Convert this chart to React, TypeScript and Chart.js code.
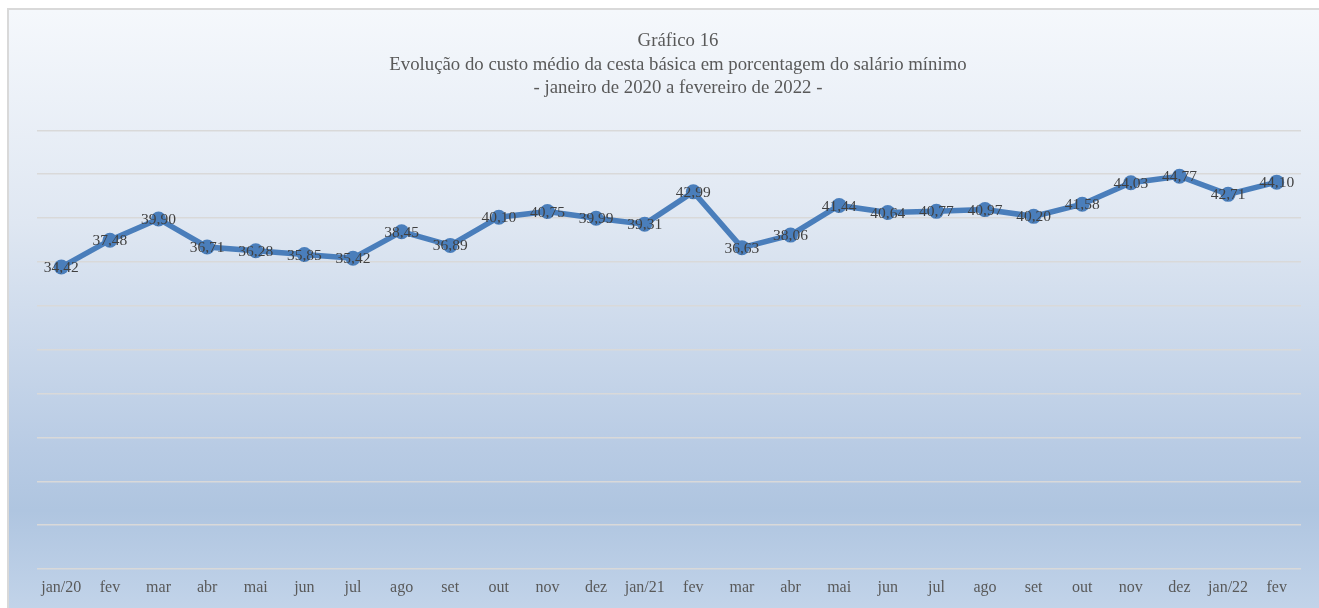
import React, { useEffect, useRef } from "react";
import { Chart, registerables } from "chart.js";

Chart.register(...registerables);

const categories = [
  "jan/20", "fev", "mar", "abr", "mai", "jun", "jul", "ago", "set", "out", "nov", "dez",
  "jan/21", "fev", "mar", "abr", "mai", "jun", "jul", "ago", "set", "out", "nov", "dez",
  "jan/22", "fev",
];

const values = [
  34.42, 37.48, 39.9, 36.71, 36.28, 35.85, 35.42, 38.45, 36.89, 40.1, 40.75, 39.99,
  39.31, 42.99, 36.63, 38.06, 41.44, 40.64, 40.77, 40.97, 40.2, 41.58, 44.03, 44.77,
  42.71, 44.1,
];

const titleLines = [
  "Gráfico 16",
  "Evolução do custo médio da cesta básica em porcentagem do salário mínimo",
  "- janeiro de 2020 a fevereiro de 2022 -",
];

const yMin = 0;
const yMax = 50;
const yStep = 5;

const FONT = "'Liberation Serif', 'Times New Roman', serif";

const labelPlugin = {
  id: "pointLabels",
  afterDatasetsDraw(chart: any) {
    const ctx = chart.ctx;
    const meta = chart.getDatasetMeta(0);
    ctx.save();
    ctx.font = `15.5px ${FONT}`;
    ctx.fillStyle = "#404040";
    ctx.textAlign = "center";
    ctx.textBaseline = "middle";
    meta.data.forEach((pt: any, i: number) => {
      const v = chart.data.datasets[0].data[i] as number;
      ctx.fillText(v.toFixed(2).replace(".", ","), pt.x, pt.y + 1);
    });
    ctx.restore();
  },
};

export default function App() {
  const ref = useRef<HTMLCanvasElement | null>(null);

  useEffect(() => {
    document.body.style.margin = "0";
    document.body.style.overflow = "hidden";
    if (!ref.current) return;
    const chart = new Chart(ref.current, {
      type: "line",
      data: {
        labels: categories,
        datasets: [
          {
            data: values,
            borderColor: "#4A7EBB",
            backgroundColor: "#4A7EBB",
            borderWidth: 5.5,
            pointRadius: 7.5,
            pointBorderWidth: 0,
            pointBackgroundColor: "#4A7EBB",
            tension: 0,
            yAxisID: "y",
          },
        ],
      },
      options: {
        responsive: false,
        animation: false,
        layout: { padding: { left: 28, right: 0, top: 0, bottom: 11 } },
        plugins: {
          legend: { display: false },
          tooltip: { enabled: false },
          title: {
            display: true,
            text: titleLines,
            color: "#595959",
            font: { family: FONT, size: 18.8, weight: "normal", lineHeight: 1.23 },
            padding: { top: 20, bottom: 31 },
          },
        },
        scales: {
          x: {
            offset: true,
            grid: { display: false, drawTicks: false },
            border: { display: false },
            ticks: {
              color: "#595959",
              font: { family: FONT, size: 16 },
              padding: 9,
              autoSkip: false,
              maxRotation: 0,
            },
            afterFit: (axis: any) => {
              axis.height = 40;
            },
          },
          y: {
            min: yMin,
            max: yMax,
            position: "left",
            ticks: { display: false, stepSize: yStep },
            grid: { color: "#d9d9d9", lineWidth: 1.5, drawTicks: false },
            border: { display: false },
            afterFit: (axis: any) => {
              axis.width = 0;
            },
          },
          y2: {
            position: "right",
            min: yMin,
            max: yMax,
            ticks: { display: false },
            grid: { display: false, drawTicks: false },
            border: { display: false },
            afterFit: (axis: any) => {
              axis.width = 18;
            },
          },
        },
      },
      plugins: [labelPlugin],
    });
    return () => chart.destroy();
  }, []);

  return (
    <div
      style={{
        position: "absolute",
        left: 7,
        top: 8,
        width: 1312,
        height: 612,
        boxSizing: "border-box",
        borderLeft: "2px solid #d9d9d9",
        borderTop: "2px solid #d9d9d9",
        background:
          "linear-gradient(to bottom, #f5f8fc 0%, #dfe7f2 35%, #b8cbe4 72%, #afc5e0 82%, #c4d5ea 100%)",
      }}
    >
      <canvas ref={ref} width={1310} height={610} style={{ display: "block" }} />
    </div>
  );
}
